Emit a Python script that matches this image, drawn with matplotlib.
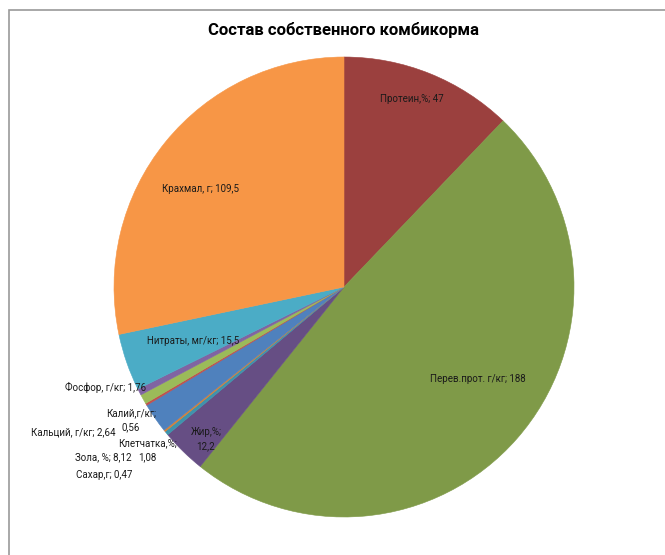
import matplotlib.pyplot as plt
from matplotlib.patches import Rectangle

plt.rcParams['font.family'] = ['Roboto', 'DejaVu Sans']

# состав комбикорма, по часовой стрелке от верха
names = ['Протеин,%', 'Перев.прот. г/кг', 'Жир,%', 'Клетчатка,%', 'Сахар,г',
         'Зола, %', 'Калий,г/кг', 'Кальций, г/кг', 'Фосфор, г/кг',
         'Нитраты, мг/кг', 'Крахмал, г']
values = [47, 188, 12.2, 1.08, 0.47, 8.12, 0.56, 2.64, 1.76, 15.5, 109.5]
seps = ['; ', '; ', ';\n', ';\n', '; ', '; ', ';\n', '; ', '; ', '; ', '; ']

colors = ['#9B403E', '#7F9A48', '#664E84', '#3E93AC', '#D98036', '#4F81BD',
          '#C0504D', '#9BBB59', '#8064A2', '#4BACC6', '#F79646']

# label centres in pie units (centre 0,0, radius 1)
label_pos = [(0.296, 0.817), (0.583, -0.400), (-0.600, -0.661),
             (-0.855, -0.709), (-1.043, -0.817), (-1.045, -0.739),
             (-0.926, -0.578), (-1.178, -0.630), (-1.035, -0.439),
             (-0.657, -0.235), (-0.626, 0.426)]


def fmt(v):
    return ('%g' % v).replace('.', ',')


fig = plt.figure(figsize=(6.65, 5.55), dpi=100)

# chart frame (only top and left edges fall inside the image)
fig.patches.append(Rectangle((9 / 665, -0.1), 1.2, 1 - 10 / 555 + 0.1,
                             transform=fig.transFigure, fill=False,
                             edgecolor='#9A9A9A', linewidth=1.2))

ax = fig.add_axes([(344 - 230) / 665, (555 - 287 - 230) / 555, 460 / 665, 460 / 555])
wedges, _ = ax.pie(values, colors=colors, startangle=90, counterclock=False)
for w in wedges:
    w.set_edgecolor(w.get_facecolor())
    w.set_linewidth(0.4)
ax.set_xlim(-1, 1)
ax.set_ylim(-1, 1)

# wrapped labels: each line is its own text, stacked around the centre
line_h = 10
for i, name in enumerate(names):
    lines = (name + seps[i] + fmt(values[i])).split('\n')
    n = len(lines)
    for k, line in enumerate(lines):
        dy = ((n - 1) / 2 - k) * line_h
        ax.annotate(line, label_pos[i], xytext=(0, dy), textcoords='offset points',
                    ha='center', va='center', fontsize=7, color='#1A1A1A',
                    annotation_clip=False)

fig.text(344 / 665, 1 - 30 / 555, 'Состав собственного комбикорма',
         ha='center', va='center', fontsize=12, fontweight='bold')

fig.savefig('out.png', dpi=100)
